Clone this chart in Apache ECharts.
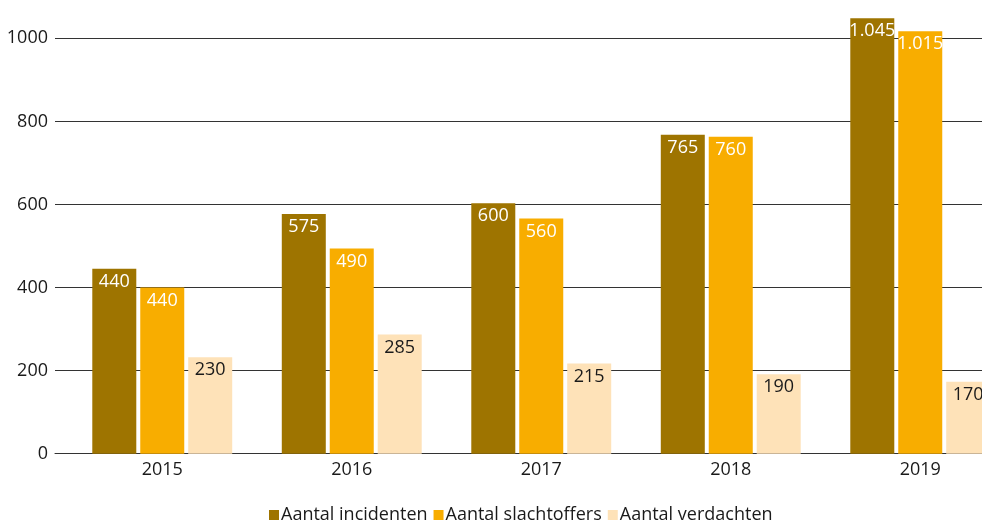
<!DOCTYPE html>
<html>
<head>
<meta charset="utf-8">
<script src="https://cdn.jsdelivr.net/npm/echarts@6/dist/echarts.min.js"></script>
<style>
  html, body { margin: 0; padding: 0; background: #fff; overflow: hidden; }
  /* de grafiek loopt rechts iets buiten beeld, net als het origineel */
  #chart { width: 1015px; height: 523px; }
</style>
</head>
<body>
<div id="chart"></div>
<script>
  // jaren (categorieen)
  const years = ['2015', '2016', '2017', '2018', '2019'];
  const seriesNames = ['Aantal incidenten', 'Aantal slachtoffers', 'Aantal verdachten'];

  const incidenten = [445, 577, 603, 768, 1048];
  const slachtoffers = [400, 494, 566, 763, 1017];
  const verdachten = [232, 287, 217, 191, 173];

  // teksten in de staven
  const incidentenLabels = ['440', '575', '600', '765', '1.045'];
  const slachtoffersLabels = ['440', '490', '560', '760', '1.015'];
  const verdachtenLabels = ['230', '285', '215', '190', '170'];

  const yTicks = [0, 200, 400, 600, 800, 1000];

  const font = '"Open Sans", sans-serif';
  const textColor = '#1a1a1a';

  function barSeries(name, values, labels, color, labelColor) {
    return {
      name: name,
      type: 'bar',
      xAxisIndex: 0,
      yAxisIndex: 0,
      data: values,
      barWidth: 44,
      barGap: '9%',
      clip: false,
      z: 5,
      itemStyle: { color: color },
      label: {
        show: true,
        position: 'insideTop',
        distance: 4,
        color: labelColor,
        fontFamily: font,
        fontSize: 18,
        formatter: p => labels[p.dataIndex]
      }
    };
  }

  const chart = echarts.init(document.getElementById('chart'));
  chart.setOption({
    animation: false,
    textStyle: { fontFamily: font },
    legend: {
      data: seriesNames,
      top: 501,
      left: 264,
      icon: 'rect',
      itemWidth: 10,
      itemHeight: 10,
      itemGap: 6,
      textStyle: { fontFamily: font, fontSize: 18, color: textColor, padding: [0, 0, 0, -3] }
    },
    grid: [
      // staven
      { left: 67.5, right: 0, top: 38.3, bottom: 69.3 },
      // rasterlijnen en y-as
      { left: 55, right: 0, top: 38.3, bottom: 69.3 }
    ],
    xAxis: [
      {
        type: 'category',
        gridIndex: 0,
        data: years,
        axisLine: { show: false },
        axisTick: { show: false },
        axisLabel: { color: textColor, fontSize: 18, fontFamily: font, margin: 7 }
      },
      {
        type: 'value',
        gridIndex: 1,
        min: 0,
        max: 1,
        axisLine: { show: true, lineStyle: { color: '#333', width: 1 } },
        axisTick: { show: false },
        axisLabel: { show: false },
        splitLine: { show: false }
      }
    ],
    yAxis: [
      {
        type: 'value',
        gridIndex: 0,
        min: 0,
        max: 1000,
        interval: 200,
        axisLine: { show: false },
        axisTick: { show: false },
        axisLabel: { show: false },
        splitLine: { show: false }
      },
      {
        type: 'value',
        gridIndex: 1,
        min: yTicks[0],
        max: yTicks[yTicks.length - 1],
        interval: 200,
        axisLine: { show: false },
        axisTick: { show: false },
        axisLabel: {
          color: textColor, fontSize: 18, fontFamily: font, margin: 7,
          formatter: v => String(v)
        },
        splitLine: { show: true, lineStyle: { color: '#333', width: 1 } }
      }
    ],
    series: [
      barSeries(seriesNames[0], incidenten, incidentenLabels, '#9E7400', '#ffffff'),
      barSeries(seriesNames[1], slachtoffers, slachtoffersLabels, '#F8AD00', '#ffffff'),
      barSeries(seriesNames[2], verdachten, verdachtenLabels, '#FEE2B8', textColor)
    ]
  });
</script>
</body>
</html>
